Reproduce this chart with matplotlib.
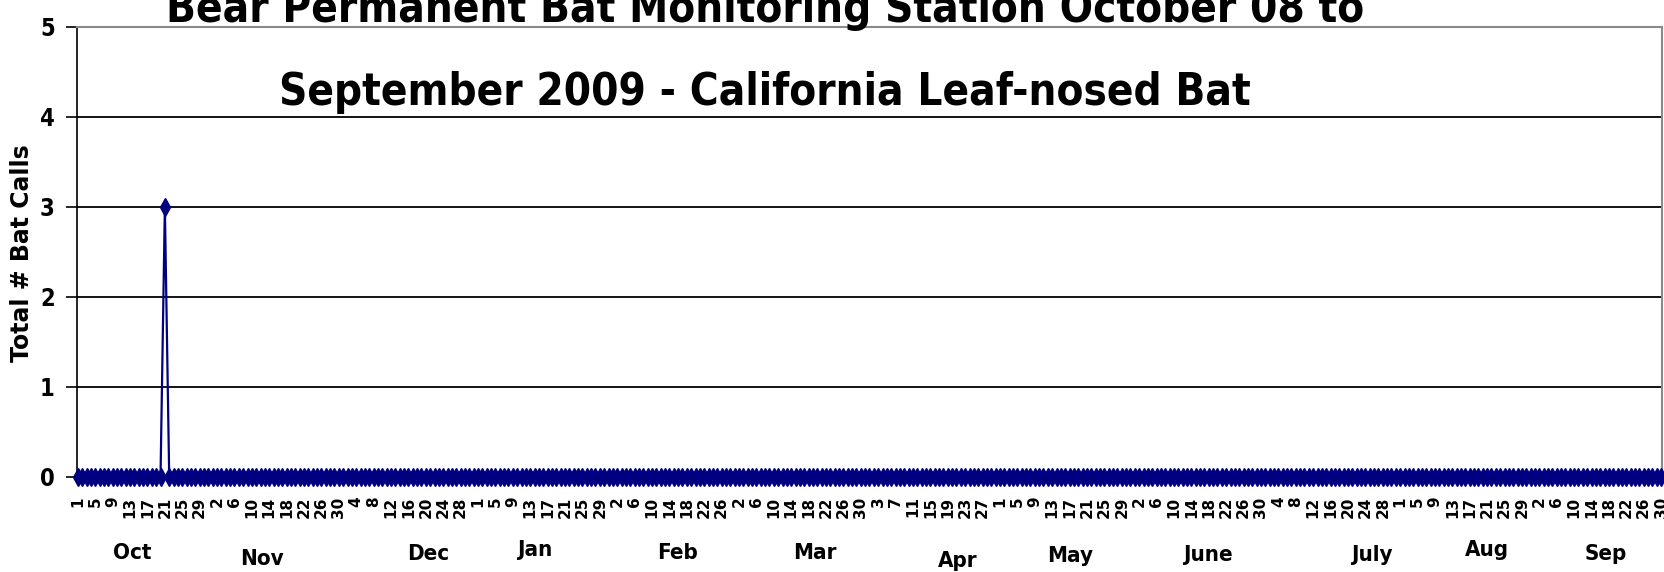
import datetime as dt
import matplotlib
matplotlib.use("Agg")
import matplotlib.pyplot as plt

# ---- data ----
start = dt.date(2008, 10, 1)
dates = [start + dt.timedelta(days=i) for i in range(365)]
calls = [0] * 365
spike_date = dt.date(2008, 10, 21)
spike_value = 3
calls[(spike_date - start).days] = spike_value

tick_idx = list(range(0, 365, 4))
tick_labels = [str(dates[i].day) for i in tick_idx]

months = ["Oct", "Nov", "Dec", "Jan", "Feb", "Mar", "Apr", "May", "June", "July", "Aug", "Sep"]
month_x = [132, 262, 428, 535, 678, 815, 958, 1070, 1208, 1372, 1487, 1606]
month_y = [553, 559, 554, 550, 553, 553, 561, 556, 555, 555, 550, 554]

title_line1 = "Bear Permanent Bat Monitoring Station October 08 to"
title_line2 = "September 2009 - California Leaf-nosed Bat"
y_label = "Total # Bat Calls"

W, H = 1665, 572
NARROW = ["Liberation Sans Narrow", "DejaVu Sans"]

fig = plt.figure(figsize=(W / 100, H / 100), dpi=100)
ax = fig.add_axes([77 / W, 1 - 477 / H, 1585 / W, 450 / H])

x = list(range(365))
ax.plot(x, calls, color="#000080", lw=1.6, marker="d", markersize=9,
        markerfacecolor="#000080", markeredgecolor="#000080", clip_on=False, zorder=3)

ax.set_xlim(-0.2, 364.2)
ax.set_ylim(0, 5)
ax.set_yticks([0, 1, 2, 3, 4, 5])
ax.set_yticklabels(["0", "1", "2", "3", "4", "5"], family=NARROW, fontstretch="condensed",
                   fontweight="bold", fontsize=17)
ax.set_xticks(tick_idx)
ax.set_xticklabels(tick_labels, rotation=90, family="DejaVu Sans", fontweight="bold", fontsize=11)
ax.tick_params(axis="x", length=0, pad=14)
ax.tick_params(axis="y", length=8, width=1.2, direction="out", pad=8)

for v in [1, 2, 3, 4]:
    ax.axhline(v, color="black", lw=1.3, zorder=1)
ax.spines["top"].set_color("#8a8a8a")
ax.spines["top"].set_linewidth(1.5)
ax.spines["right"].set_color("#8a8a8a")
ax.spines["right"].set_linewidth(1.5)
ax.spines["left"].set_color("black")
ax.spines["left"].set_linewidth(1.2)
ax.spines["bottom"].set_visible(False)

fig.text(22 / W, 1 - 253 / H, y_label, rotation=90, ha="center", va="center",
         family="DejaVu Sans", fontweight="bold", fontsize=17)

for m, mx, my in zip(months, month_x, month_y):
    fig.text(mx / W, 1 - my / H, m, ha="center", va="center", family=NARROW,
             fontstretch="condensed", fontweight="bold", fontsize=16)

fig.text(765 / W, 1 - 22 / H, title_line1, ha="center", va="baseline", family=NARROW,
         fontstretch="condensed", fontweight="bold", fontsize=31.5)
fig.text(765 / W, 1 - 105 / H, title_line2, ha="center", va="baseline", family=NARROW,
         fontstretch="condensed", fontweight="bold", fontsize=31.5)

fig.savefig("out.png", dpi=100)
